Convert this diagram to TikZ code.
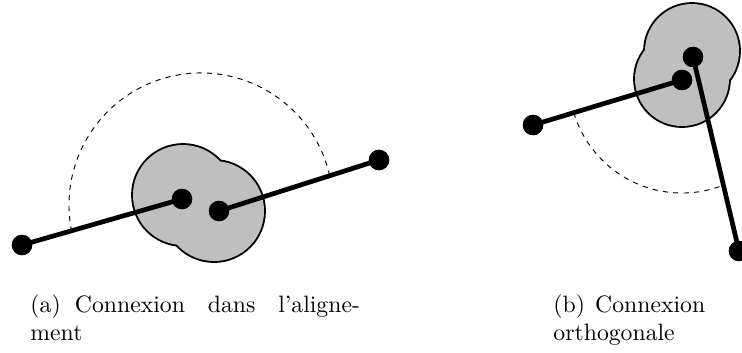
\documentclass[tikz,border=0pt]{standalone}
\begin{document}
\begin{tikzpicture}[x=0.4219pt,y=-0.4219pt,
  dot/.style={circle,fill=black,inner sep=0pt,minimum size=8.6pt},
  bar/.style={line width=2pt},
  arcline/.style={line width=0.4pt,dash pattern=on 2.2pt off 2.2pt},
  blobline/.style={line width=1.6pt},
  blobfill/.style={fill=black!25},
  captext/.style={inner sep=0pt,anchor=base west,align=justify}]
\useasboundingbox (0,0) rectangle (742,352);
% ---- (a) ----
\draw[blobline] (183,195) circle[radius=50] (214,211) circle[radius=50];
\fill[blobfill] (183,195) circle[radius=50] (214,211) circle[radius=50];
\node[dot] (a1) at (22,245) {};
\node[dot] (b1) at (182,199) {};
\node[dot] (c1) at (219,211) {};
\node[dot] (d1) at (379,160) {};
\coordinate (s1) at (329.7,175.7);
\draw[arcline] (s1) arc[start angle=-12.8, end angle=-191.3, radius=132];
\draw[bar] (a1.center) -- (b1.center);
\draw[bar] (c1.center) -- (d1.center);
\node[dot] at (a1) {};
\node[dot] at (b1) {};
\node[dot] at (c1) {};
\node[dot] at (d1) {};
% ---- (b) ----
\draw[blobline] (692,51) circle[radius=47] (682,79) circle[radius=47];
\fill[blobfill] (692,51) circle[radius=47] (682,79) circle[radius=47];
\node[dot] (a2) at (533,125) {};
\node[dot] (b2) at (682,80) {};
\node[dot] (c2) at (693,57) {};
\node[dot] (d2) at (739,251) {};
\coordinate (s2) at (573.8,112.7);
\draw[arcline] (s2) arc[start angle=163.2, end angle=68.5, radius=113];
\draw[bar] (a2.center) -- (b2.center);
\draw[bar] (c2.center) -- (d2.center);
\node[dot] at (a2) {};
\node[dot] at (b2) {};
\node[dot] at (c2) {};
\node[dot] at (d2) {};
% ---- captions ----
\node[captext,text width=139pt] (capa) at (30,312) {(a)\hspace{6pt}Connexion dans l'aligne-\linebreak ment};
\node[captext,text width=64pt] (capb) at (553,312) {(b) Connexion\linebreak orthogonale};
\end{tikzpicture}
\end{document}
